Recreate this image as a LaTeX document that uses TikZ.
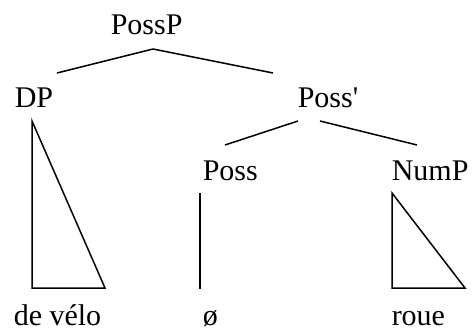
\documentclass[tikz,border=0pt]{standalone}
\usepackage{fontspec}
\setmainfont{Liberation Serif}
\usepackage{tikz}

\begin{document}
\begin{tikzpicture}[x=1pt, y=-1pt, line width=1.5pt,
        lab/.style = {inner sep=0pt, anchor=base west, font=\fontsize{30}{36}\selectfont}]
        \useasboundingbox (0,0) rectangle (473,334);

        \node[lab] (PossP) at (110,35) {PossP};
        \node[lab] (DP) at (14,107) {DP};
        \node[lab] (Possbar) at (297,107) {Poss\textquotesingle};
        \node[lab] (Poss) at (202,180) {Poss};
        \node[lab] (NumP) at (391,180) {NumP};
        \node[lab] (develo) at (13,325) {de vélo};
        \node[lab] (empty) at (202,325) {ø};
        \node[lab] (roue) at (391,325) {roue};

        \draw ([shift={(43,14)}]PossP.base west) -- ([shift={(43,-34)}]DP.base west);
        \draw ([shift={(43,14)}]PossP.base west) -- ([shift={(-24,-34)}]Possbar.base west);
        \draw ([shift={(1,14)}]Possbar.base west) -- ([shift={(23,-35)}]Poss.base west);
        \draw ([shift={(23,14)}]Possbar.base west) -- ([shift={(26,-35)}]NumP.base west);

        \draw ([shift={(18,14)}]DP.base west) -- ([shift={(19,-37)}]develo.base west)
            -- ([shift={(92,-37)}]develo.base west) -- cycle;
        \draw ([shift={(-2,13)}]Poss.base west) -- ([shift={(-2,-36)}]empty.base west);
        \draw ([shift={(1,13)}]NumP.base west) -- ([shift={(1,-37)}]roue.base west)
            -- ([shift={(74,-37)}]roue.base west) -- cycle;

    \end{tikzpicture}
\end{document}
